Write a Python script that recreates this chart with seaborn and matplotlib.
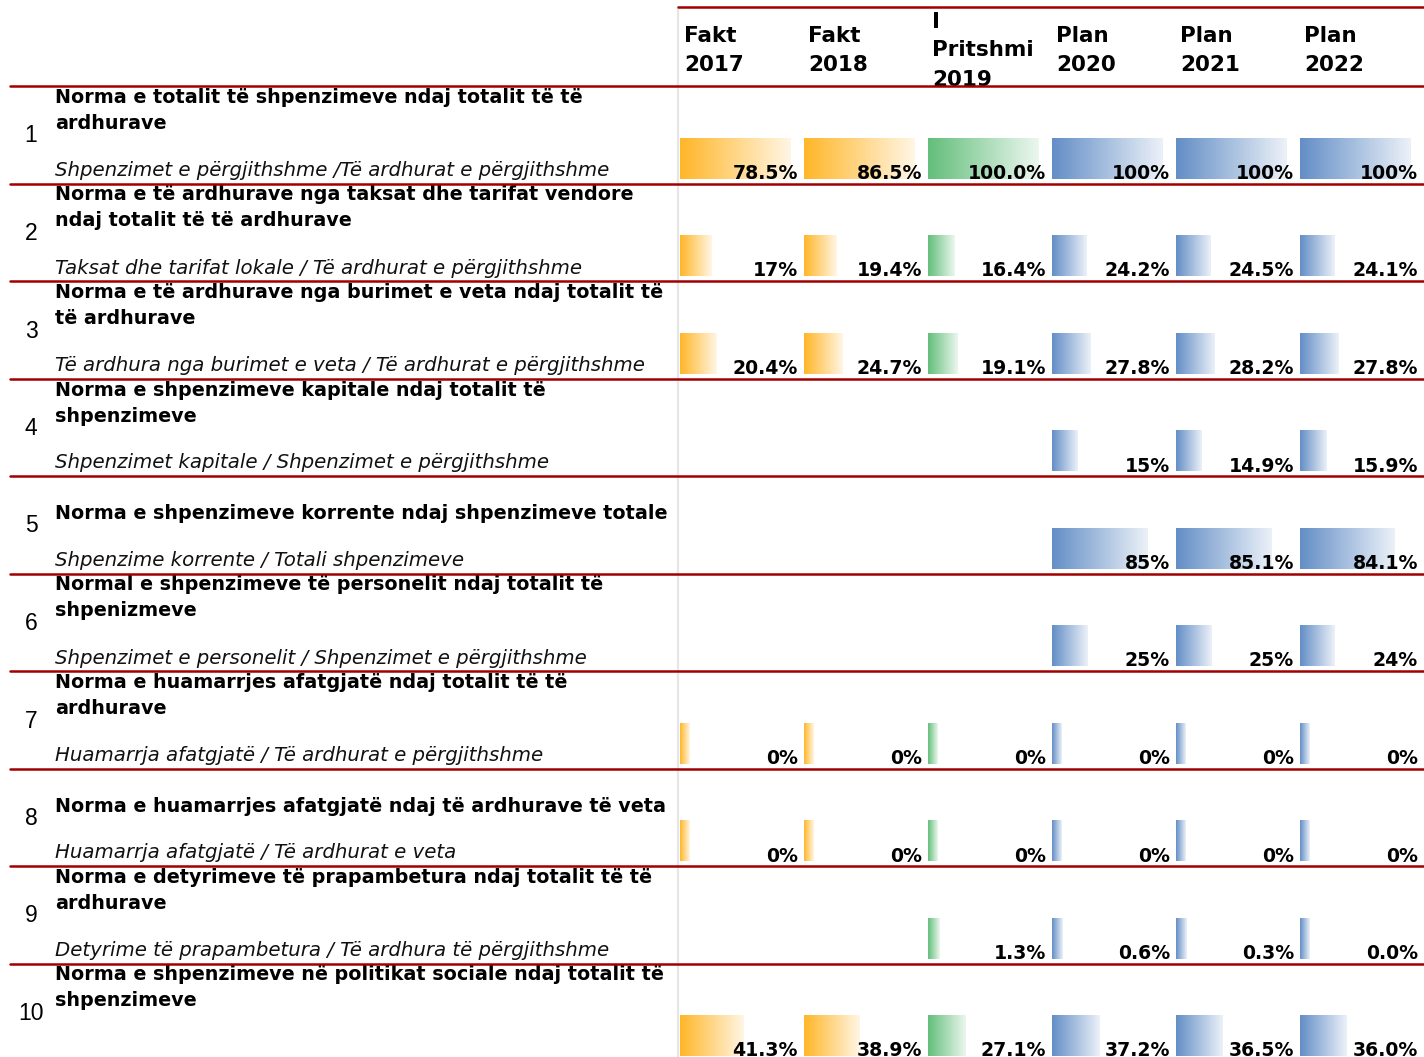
#!/usr/bin/env python3
"""
Indicator table with Excel-style gradient data bars (Fakt / Pritshmi / Plan columns)
"""
import numpy as np
import pandas as pd
import matplotlib
matplotlib.use('Agg')
import matplotlib.pyplot as plt
import seaborn as sns

sns.set_theme(style='white')
plt.rcParams['font.family'] = ['DejaVu Sans']

# ---- data ----
row_numbers = ['1', '2', '3', '4', '5', '6', '7', '8', '9', '10']
titles = [
    ['Norma e totalit të shpenzimeve ndaj totalit të të', 'ardhurave'],
    ['Norma e të ardhurave nga taksat dhe tarifat vendore', 'ndaj totalit të të ardhurave'],
    ['Norma e të ardhurave nga burimet e veta ndaj totalit të', 'të ardhurave'],
    ['Norma e shpenzimeve kapitale ndaj totalit të', 'shpenzimeve'],
    ['Norma e shpenzimeve korrente ndaj shpenzimeve totale'],
    ['Normal e shpenzimeve të personelit ndaj totalit të', 'shpenizmeve'],
    ['Norma e huamarrjes afatgjatë ndaj totalit të të', 'ardhurave'],
    ['Norma e huamarrjes afatgjatë ndaj të ardhurave të veta'],
    ['Norma e detyrimeve të prapambetura ndaj totalit të të', 'ardhurave'],
    ['Norma e shpenzimeve në politikat sociale ndaj totalit të', 'shpenzimeve'],
]
subtitles = [
    'Shpenzimet e përgjithshme /Të ardhurat e përgjithshme',
    'Taksat dhe tarifat lokale / Të ardhurat e përgjithshme',
    'Të ardhura nga burimet e veta / Të ardhurat e përgjithshme',
    'Shpenzimet kapitale / Shpenzimet e përgjithshme',
    'Shpenzime korrente / Totali shpenzimeve',
    'Shpenzimet e personelit / Shpenzimet e përgjithshme',
    'Huamarrja afatgjatë / Të ardhurat e përgjithshme',
    'Huamarrja afatgjatë / Të ardhurat e veta',
    'Detyrime të prapambetura / Të ardhura të përgjithshme',
    '',
]
col_headers = ['Fakt\n2017', 'Fakt\n2018', 'I\nPritshmi\n2019',
               'Plan\n2020', 'Plan\n2021', 'Plan\n2022']

# displayed labels (None = empty cell)
fakt_2017 = ['78.5%', '17%', '20.4%', None, None, None, '0%', '0%', None, '41.3%']
fakt_2018 = ['86.5%', '19.4%', '24.7%', None, None, None, '0%', '0%', None, '38.9%']
pritshmi_2019 = ['100.0%', '16.4%', '19.1%', None, None, None, '0%', '0%', '1.3%', '27.1%']
plan_2020 = ['100%', '24.2%', '27.8%', '15%', '85%', '25%', '0%', '0%', '0.6%', '37.2%']
plan_2021 = ['100%', '24.5%', '28.2%', '14.9%', '85.1%', '25%', '0%', '0%', '0.3%', '36.5%']
plan_2022 = ['100%', '24.1%', '27.8%', '15.9%', '84.1%', '24%', '0%', '0%', '0.0%', '36.0%']
columns = [fakt_2017, fakt_2018, pritshmi_2019, plan_2020, plan_2021, plan_2022]

# bar colour per column (Excel gradient data bars)
orange, green, blue = '#FFB628', '#63BE7B', '#638EC6'
col_colors = [orange, orange, green, blue, blue, blue]

# ---- layout (pixels) ----
W, H = 1424, 1057
RED = '#A00000'
row_top0, row_h = 86, 97.5
col_x0, col_w = 679.5, 124
bar_min, bar_max = 10, 111

fig = plt.figure(figsize=(W / 100, H / 100), dpi=100)
ax = fig.add_axes([0, 0, 1, 1])

# long table of cells
recs = []
for j, col in enumerate(columns):
    vals = [float(s.rstrip('%')) if s else np.nan for s in col]
    cmax = np.nanmax(vals)
    for i, (s, v) in enumerate(zip(col, vals)):
        if s is None:
            continue
        # Excel data bar length: 10%..90% of cell, scaled to column max
        length = bar_min + (v / cmax if cmax > 0 else 0) * (bar_max - bar_min)
        recs.append(dict(row=i, col=j, label=s, value=v, length=length))
df = pd.DataFrame(recs)

# gradient bars
for j in range(len(columns)):
    light = sns.blend_palette([col_colors[j], 'white'], 9)[7]
    cmap = sns.blend_palette([col_colors[j], light], as_cmap=True)
    sub = df[df['col'] == j]
    tops = row_top0 + sub['row'] * row_h + 52
    bars = ax.bar(col_x0 + j * col_w, 41, width=sub['length'], bottom=tops,
                  align='edge', color='none', linewidth=0)
    grad = np.linspace(0, 1, 256).reshape(1, -1)
    for p in bars:
        x, y, w, h = p.get_x(), p.get_y(), p.get_width(), p.get_height()
        ax.imshow(grad, cmap=cmap, extent=[x, x + w, y + h, y],
                  aspect='auto', interpolation='bilinear', zorder=1)
    for _, r in sub.iterrows():
        ax.text(col_x0 + j * col_w + 118.5, row_top0 + r['row'] * row_h + 93,
                r['label'], ha='right', va='baseline', fontsize=13.6,
                fontweight='bold', color='black', zorder=3)

# column headers (vertically centred block, 29 px line pitch)
for j, hdr in enumerate(col_headers):
    lines = hdr.split('\n')
    n = len(lines)
    for k, ln in enumerate(lines):
        y = 56.5 + 29 * (k - (n - 1) / 2)
        ax.text(col_x0 + j * col_w + 5, y, ln, ha='left', va='baseline',
                fontsize=15.5, fontweight='bold', color='black')

# row labels
for i in range(len(row_numbers)):
    top = row_top0 + i * row_h
    ax.text(31, top + 50, row_numbers[i], ha='center', va='center',
            fontsize=16.5, family='Liberation Sans', color='black')
    lines = titles[i]
    for k, ln in enumerate(lines):
        y = top + 43 - 26 * (len(lines) - 1 - k)
        ax.text(55, y, ln, ha='left', va='baseline', fontsize=13.8,
                fontweight='bold', color='black')
    ax.text(55, top + 90, subtitles[i], ha='left', va='baseline',
            fontsize=14.2, style='italic', color='#111111')

# grid lines
ax.plot([678, 678], [7, H], color='#E6E6E6', lw=1.6, zorder=0)
ax.plot([678, W], [7, 7], color=RED, lw=1.8, zorder=4)
for i in range(len(row_numbers)):
    y = row_top0 + i * row_h
    ax.plot([10, W], [y, y], color=RED, lw=1.8, zorder=4)

ax.set_xlim(0, W)
ax.set_ylim(H, 0)
ax.axis('off')
fig.savefig('out.png', dpi=100, facecolor='white')
plt.close(fig)
